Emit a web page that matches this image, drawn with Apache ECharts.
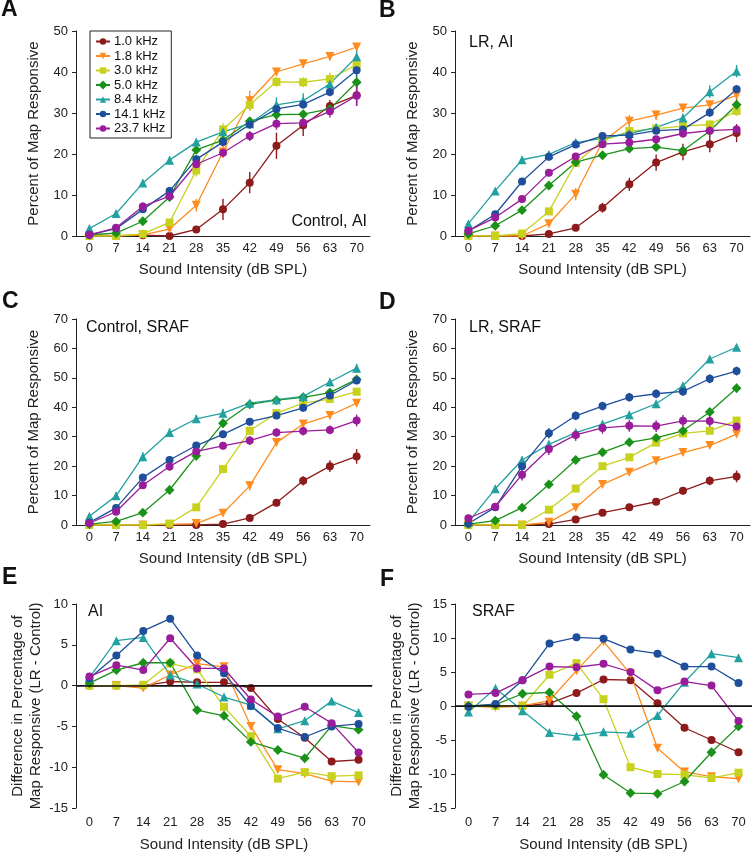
<!DOCTYPE html>
<html>
<head>
<meta charset="utf-8">
<title>Map responsiveness</title>
<script src="https://cdn.jsdelivr.net/npm/echarts@6/dist/echarts.min.js"></script>
<style>
  html, body { margin: 0; padding: 0; background: #fff; }
  #main { width: 752px; height: 853px; }
</style>
</head>
<body>
<div id="main"></div>
<script>
// x axis categories (dB SPL)
const intensity = ['0', '7', '14', '21', '28', '35', '42', '49', '56', '63', '70'];
const freqs = ['1.0 kHz', '1.8 kHz', '3.0 kHz', '5.0 kHz', '8.4 kHz', '14.1 kHz', '23.7 kHz'];

// A: Control, AI  (rows follow freqs)
const controlAI = [
  [0.2, 0.1, 0.2, 0, 1.6, 6.5, 13, 22, 27, 31.7, 34.3],
  [0, 0, 0.3, 1.7, 7.5, 20.5, 33, 40, 42, 43.8, 46.1],
  [0, 0, 0.5, 3.3, 16, 26, 32, 37.6, 37.5, 38.3, 41.8],
  [0.3, 0.7, 3.6, 9.5, 21, 23.4, 28, 29.6, 29.7, 31, 37.5],
  [1.8, 5.5, 12.9, 18.5, 22.9, 25.4, 27.4, 32, 33, 37.1, 43.7],
  [0.3, 1.8, 6.5, 11, 18.7, 22.9, 27.2, 31, 32.1, 35.1, 40.4],
  [0.3, 2, 7.2, 9.7, 17.5, 20.3, 24.4, 27.4, 27.6, 30.4, 34.2]
];
const controlAIerr = [
  [0.2, 0.2, 0.3, 0.3, 0.6, 2.6, 2.6, 3.2, 2.6, 1.5, 2.5],
  [0, 0, 0.3, 0.6, 1.5, 1.5, 2.5, 1, 1, 1, 1],
  [0, 0, 0.4, 0.8, 1.5, 1.5, 1.5, 1.2, 1.2, 1.5, 1.5],
  [0.3, 0.5, 0.6, 1, 1, 1, 1, 1, 1, 1, 1.5],
  [0.5, 0.6, 0.8, 1, 0.8, 1, 1, 1.8, 1.8, 1.5, 2],
  [0.3, 0.6, 0.8, 1, 1, 1, 1, 1, 1, 1, 1.5],
  [0.3, 0.6, 1, 1, 1, 1, 1.2, 1.5, 1.5, 1.5, 2.5]
];

// B: LR, AI
const lrAI = [
  [0, 0, 0, 0.5, 2, 6.9, 12.6, 17.9, 20.5, 22.4, 25.1],
  [0, 0, 0, 3, 10.2, 23, 28, 29.5, 31.2, 32, 34.3],
  [0, 0, 0.6, 6, 17.8, 23.2, 25.6, 26.2, 26.8, 27.2, 30.5],
  [0.5, 2.5, 6.3, 12.3, 18, 19.7, 21.3, 21.7, 20.8, 25.6, 32],
  [3, 11, 18.6, 19.9, 22.8, 23.8, 25, 26.5, 28.8, 35.2, 40.2],
  [1.2, 5.3, 13.3, 19.3, 22.3, 24.4, 24.6, 25.7, 26, 30.1, 35.8],
  [1.3, 4.5, 9, 15.4, 19.4, 22.4, 22.8, 23.6, 25, 25.7, 26]
];
const lrAIerr = [
  [0, 0, 0.2, 0.4, 0.6, 1.2, 1.6, 2, 2, 2, 2.2],
  [0, 0, 0.2, 0.5, 1.5, 1, 1.5, 1.2, 1, 1, 1],
  [0, 0, 0.3, 0.7, 0.8, 1, 1, 1, 1, 1, 1.2],
  [0.3, 0.5, 0.6, 0.8, 0.8, 0.8, 0.8, 0.8, 1, 1.2, 1.5],
  [0.5, 0.6, 0.8, 0.8, 0.8, 0.8, 0.8, 0.8, 1, 1.5, 1.5],
  [0.5, 0.6, 0.8, 0.8, 0.8, 0.8, 0.8, 0.8, 1, 1, 1],
  [0.5, 0.6, 0.8, 0.8, 0.8, 0.8, 0.8, 0.8, 1, 1, 1]
];

// C: Control, SRAF
const controlSRAF = [
  [0, 0, 0, 0, 0, 0.3, 2.4, 7.6, 15, 20, 23.3],
  [0, 0, 0, 0.2, 0.5, 4, 13.3, 28, 34.3, 37.2, 41.4],
  [0, 0, 0, 0.5, 6, 19, 32, 38, 41.4, 42.8, 45.3],
  [0.3, 1.2, 4.2, 11.9, 23.5, 34.6, 41, 42.4, 43.4, 45, 49.5],
  [3, 9.9, 23.2, 31.4, 36.1, 38, 41.4, 42.6, 43.7, 48.6, 53.3],
  [0.8, 5.8, 16.1, 22.1, 27, 30.8, 35.1, 37.2, 39.8, 44, 49.1],
  [0.6, 4.5, 13.5, 19.9, 25, 26.9, 28.7, 31.4, 31.9, 32.3, 35.5]
];
const controlSRAFerr = [
  [0, 0, 0, 0, 0.2, 0.5, 0.8, 1.2, 1.6, 2, 2.5],
  [0, 0, 0, 0.3, 0.5, 0.8, 1.6, 1.2, 1.2, 1.2, 1.2],
  [0, 0, 0, 0.5, 0.8, 1.2, 1.5, 1.2, 1.2, 1.2, 1.2],
  [0.3, 0.6, 0.8, 1.5, 1.5, 1.5, 1.2, 1, 1, 1.2, 1.2],
  [0.6, 1.2, 1.5, 1.5, 1.3, 1.5, 1.2, 1, 1, 1.2, 1.5],
  [0.5, 0.8, 1.2, 1.2, 1.2, 1.2, 1.2, 1.2, 1.2, 1.2, 1.2],
  [0.5, 0.8, 1.2, 1.5, 1.2, 1.2, 1.5, 1.5, 1.5, 1.5, 2]
];

// D: LR, SRAF
const lrSRAF = [
  [0, 0, 0, 0.3, 1.9, 4.2, 6, 7.9, 11.6, 15, 16.5],
  [0, 0, 0, 0.9, 5.9, 13.8, 17.9, 21.8, 24.6, 27, 30.9],
  [0, 0, 0, 5.2, 12.4, 20, 23, 28, 31.1, 32, 35.5],
  [0.3, 1.5, 5.9, 13.8, 22.1, 24.7, 28.1, 29.6, 32, 38.4, 46.5],
  [1, 12.3, 22.1, 27.4, 31.4, 34.3, 37.5, 41.2, 47.3, 56.4, 60.4],
  [0.5, 6, 20, 31.2, 37.1, 40.4, 43.4, 44.6, 45.4, 49.7, 52.3],
  [2.3, 6.2, 17.1, 25.8, 30.6, 33, 33.7, 33.6, 35.4, 35.3, 33.5]
];
const lrSRAFerr = [
  [0, 0, 0, 0.3, 0.5, 0.8, 0.8, 1, 1.2, 1.5, 2],
  [0, 0, 0, 0.5, 0.8, 1, 1, 1.2, 1, 1, 1.2],
  [0, 0, 0, 0.6, 0.8, 1, 1, 1.2, 1, 1, 1.2],
  [0.3, 0.6, 0.8, 1, 1, 1, 1, 1.2, 1.2, 1.2, 1.5],
  [0.5, 1, 1.2, 1.2, 1, 1, 1, 1, 1, 1, 1],
  [0.5, 1, 1.5, 1.8, 1.5, 1.5, 1.5, 1.5, 1.5, 1.5, 1.5],
  [0.8, 1, 2, 2, 2, 2, 2, 2, 2, 2, 1.5]
];

// E: LR - Control, AI
const diffAI = [
  [0, 0, 0, 0.5, 0.4, 0.4, -0.3, -4.1, -6.4, -9.3, -9.1],
  [0, 0, -0.3, 1.3, 2.7, 2.3, -5, -10.3, -10.8, -11.7, -11.8],
  [0, 0, 0.1, 2.7, 2, -2.6, -6.2, -11.4, -10.6, -11.1, -11],
  [0.3, 1.9, 2.8, 2.8, -3, -3.7, -6.9, -7.9, -8.9, -4.9, -5.4],
  [1, 5.5, 5.9, 1.3, 0.2, -1.4, -2.4, -5.3, -4.3, -1.9, -3.3],
  [0.9, 3.7, 6.7, 8.2, 3.7, 1.5, -2.5, -5.2, -6.3, -5, -4.7],
  [1.1, 2.5, 1.9, 5.8, 2.1, 2.1, -1.7, -3.8, -2.6, -4.6, -8.2]
];

// F: LR - Control, SRAF
const diffSRAF = [
  [0, 0, 0, 0.4, 1.9, 3.9, 3.8, 0.4, -3.2, -5, -6.8],
  [0, -0.2, 0, 0.8, 5.2, 9.5, 4.7, -6.2, -9.7, -10.4, -10.7],
  [0, 0, 0, 4.6, 6.3, 1, -9, -10, -10.1, -10.6, -9.8],
  [0, 0.2, 1.8, 2, -1.5, -10.1, -12.8, -12.9, -11.1, -6.8, -3],
  [-0.9, 2.6, -0.7, -3.9, -4.4, -3.8, -4, -1.4, 3.5, 7.7, 7.1],
  [-0.1, 0.3, 3.8, 9.2, 10.1, 9.9, 8.3, 7.7, 5.8, 5.8, 3.4],
  [1.7, 1.9, 3.8, 5.8, 5.7, 6.2, 5, 2.3, 3.6, 3, -2.2]
];

const colors = ['#8e1b1b', '#ff8c1e', '#c9d11f', '#1a921a', '#23a0a0', '#1f4f9a', '#9a1c9a'];
const symbols = ['circle', 'triangle', 'rect', 'rect', 'triangle', 'circle', 'circle'];
const symbolRot = [0, 180, 0, 45, 0, 0, 0];
const symbolSz = [8, 9, 8, 7, 9, 8, 8];

const font = 'Arial, "Liberation Sans", Helvetica, sans-serif';

// panel boxes in px
const grids = [
  { left: 76, top: 31, width: 294, height: 205 },
  { left: 455, top: 31, width: 295, height: 205 },
  { left: 76, top: 319, width: 294, height: 206 },
  { left: 455, top: 319, width: 295, height: 206 },
  { left: 76, top: 604, width: 296, height: 204 },
  { left: 455, top: 604, width: 298, height: 204 }
];
const yRanges = [[0, 50, 10], [0, 50, 10], [0, 70, 10], [0, 70, 10], [-15, 10, 5], [-15, 15, 5]];
const yNames = ['Percent of Map Responsive', 'Percent of Map Responsive',
  'Percent of Map Responsive', 'Percent of Map Responsive',
  'Difference in Percentage of\nMap Responsive (LR - Control)',
  'Difference in Percentage of\nMap Responsive (LR - Control)'];

const xAxes = grids.map((g, i) => ({
  type: 'category',
  gridIndex: i,
  data: intensity,
  boundaryGap: true,
  name: 'Sound Intensity (dB SPL)',
  nameLocation: 'middle',
  nameGap: i >= 4 ? 29 : 26,
  nameTextStyle: { fontSize: 15, color: '#222', fontFamily: font },
  axisLine: { lineStyle: { color: '#222', width: 1 } },
  axisTick: { alignWithLabel: true, length: 4, lineStyle: { color: '#222' } },
  axisLabel: { fontSize: 13, color: '#222', fontFamily: font, margin: i >= 4 ? 8 : 6, interval: 0 },
  splitLine: { show: false }
}));

const yAxes = grids.map((g, i) => ({
  type: 'value',
  gridIndex: i,
  min: yRanges[i][0],
  max: yRanges[i][1],
  interval: yRanges[i][2],
  name: yNames[i],
  nameLocation: 'middle',
  nameGap: i >= 4 ? 30 : 33,
  nameTextStyle: { fontSize: 15, color: '#222', fontFamily: font, lineHeight: 18 },
  axisLine: { show: true, lineStyle: { color: '#222', width: 1 } },
  axisTick: { show: true, length: 4, lineStyle: { color: '#222' } },
  axisLabel: { fontSize: 13, color: '#222', fontFamily: font, margin: 8 },
  splitLine: { show: false }
}));

const panels = [controlAI, lrAI, controlSRAF, lrSRAF, diffAI, diffSRAF];
const panelErr = [controlAIerr, lrAIerr, controlSRAFerr, lrSRAFerr, null, null];

const series = [];
panels.forEach((rows, p) => {
  const errs = panelErr[p];
  rows.forEach((vals, k) => {
    if (errs) {
      series.push({
        type: 'custom',
        xAxisIndex: p,
        yAxisIndex: p,
        silent: true,
        z: 1,
        encode: { x: 0, y: 1 },
        data: vals.map((v, j) => [j, v, errs[k][j]]),
        renderItem: function (params, api) {
          const hi = api.coord([api.value(0), api.value(1) + api.value(2)]);
          const lo = api.coord([api.value(0), api.value(1) - api.value(2)]);
          return {
            type: 'line',
            shape: { x1: hi[0], y1: hi[1], x2: lo[0], y2: lo[1] },
            style: { stroke: colors[k], lineWidth: 1.4 }
          };
        }
      });
    }
    const s = {
      type: 'line',
      name: freqs[k],
      xAxisIndex: p,
      yAxisIndex: p,
      data: vals,
      z: 2,
      symbol: symbols[k],
      symbolRotate: symbolRot[k],
      symbolSize: symbolSz[k],
      showSymbol: true,
      color: colors[k],
      itemStyle: { color: colors[k] },
      lineStyle: { color: colors[k], width: 1.3 },
      emphasis: { disabled: true },
      animation: false
    };
    // zero line on the difference panels
    if (p >= 4 && k === 0) {
      s.markLine = {
        silent: true,
        symbol: 'none',
        label: { show: false },
        lineStyle: { color: '#111', width: 1.5, type: 'solid' },
        data: [{ yAxis: 0 }]
      };
    }
    series.push(s);
  });
});

// panel letters and labels
const texts = [
  ['A', 1, 11, 23, true], ['B', 379, 12, 23, true], ['C', 2, 303, 23, true],
  ['D', 379, 304, 23, true], ['E', 2, 579, 23, true], ['F', 380, 581, 23, true],
  ['LR, AI', 469, 44, 16, false], ['Control, SRAF', 86, 329, 16, false],
  ['LR, SRAF', 469, 329, 16, false], ['AI', 88, 613, 16, false], ['SRAF', 472, 613, 16, false]
];
const graphic = texts.map(t => ({
  type: 'text',
  left: t[1],
  top: t[2] - t[3] / 2 - 1,
  style: {
    text: t[0],
    font: (t[4] ? 'bold ' : '') + t[3] + 'px ' + font,
    fill: '#111'
  }
}));
graphic.push({
  type: 'text',
  right: 752 - 367,
  top: 222 - 8,
  style: { text: 'Control, AI', font: '16px ' + font, fill: '#111', textAlign: 'right' }
});

const chart = echarts.init(document.getElementById('main'), null, { renderer: 'canvas' });
chart.setOption({
  animation: false,
  backgroundColor: '#fff',
  textStyle: { fontFamily: font },
  grid: grids,
  xAxis: xAxes,
  yAxis: yAxes,
  legend: {
    data: freqs,
    orient: 'vertical',
    left: 90,
    top: 31,
    padding: [4, 6, 3, 5],
    borderColor: '#222',
    borderWidth: 1,
    itemWidth: 14,
    itemHeight: 8,
    itemGap: 1.5,
    selectedMode: false,
    textStyle: { fontSize: 13, color: '#111', fontFamily: font, padding: [0, 0, 0, -1] }
  },
  graphic: graphic,
  series: series
});
</script>
</body>
</html>
